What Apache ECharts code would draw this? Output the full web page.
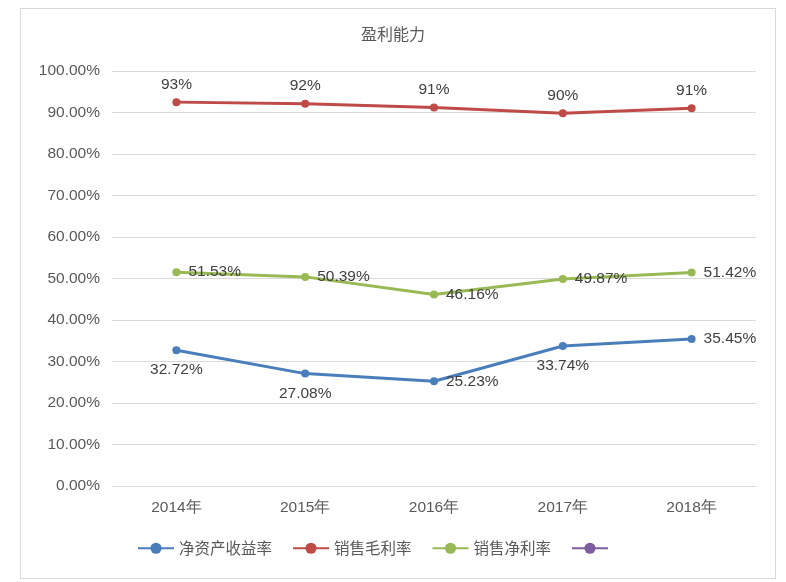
<!DOCTYPE html>
<html>
<head>
<meta charset="utf-8">
<script src="https://cdn.jsdelivr.net/npm/echarts@6/dist/echarts.min.js"></script>
<style>
  body { margin: 0; background: #fff; }
  #box { position: absolute; left: 20px; top: 8px; width: 754px; height: 569px; border: 1px solid #d9d9d9; }
  #chart { position: absolute; left: 0; top: 0; width: 786px; height: 582px; }
</style>
</head>
<body>
<div id="box"></div>
<div id="chart"></div>
<script>
var years = ['2014年', '2015年', '2016年', '2017年', '2018年'];
var roe = [32.72, 27.08, 25.23, 33.74, 35.45];
var grossMargin = [92.5, 92.1, 91.2, 89.8, 91.0];
var netMargin = [51.53, 50.39, 46.16, 49.87, 51.42];
var roePos = ['bottom', 'bottom', 'right', 'bottom', 'right'];

var myChart = echarts.init(document.getElementById('chart'));
var txt = { color: '#404040', fontSize: 15.5, fontFamily: 'Liberation Sans, Noto Sans CJK SC' };

var option = {
    title: {
        text: '盈利能力',
        left: 'center',
        top: 21,
        textStyle: { color: '#595959', fontSize: 16, fontWeight: 'normal', fontFamily: 'Noto Sans CJK SC' }
    },
    legend: {
        bottom: 21,
        left: 132,
        itemWidth: 36,
        itemGap: 20,
        textStyle: { color: '#595959', fontSize: 15.5, fontFamily: 'Noto Sans CJK SC' },
        data: ['净资产收益率', '销售毛利率', '销售净利率', ' ']
    },
    grid: { left: 112, right: 30, top: 71, bottom: 96 },
    xAxis: {
        type: 'category',
        data: years,
        axisLine: { lineStyle: { color: '#d9d9d9' } },
        axisTick: { show: false },
        axisLabel: { color: '#595959', fontSize: 15.5, margin: 14 }
    },
    yAxis: {
        type: 'value',
        min: 0, max: 100, interval: 10,
        axisLabel: { color: '#595959', fontSize: 15.5, margin: 12, formatter: function (v) { return v.toFixed(2) + '%'; } },
        splitLine: { lineStyle: { color: '#d9d9d9' } }
    },
    series: [
        {
            name: '净资产收益率', type: 'line', symbol: 'circle', symbolSize: 8,
            color: '#4a7ebb', lineStyle: { width: 3 },
            data: roe.map(function (v, i) {
                return { value: v, label: { position: roePos[i] } };
            }),
            label: Object.assign({ show: true, distance: 8, formatter: function (p) { return p.value.toFixed(2) + '%'; } }, txt)
        },
        {
            name: '销售毛利率', type: 'line', symbol: 'circle', symbolSize: 8,
            color: '#be4b48', lineStyle: { width: 3 },
            data: grossMargin,
            label: Object.assign({ show: true, position: 'top', distance: 6, formatter: function (p) { return Math.round(p.value) + '%'; } }, txt)
        },
        {
            name: '销售净利率', type: 'line', symbol: 'circle', symbolSize: 8,
            color: '#98b954', lineStyle: { width: 3 },
            data: netMargin,
            label: Object.assign({ show: true, position: 'right', distance: 8, formatter: function (p) { return p.value.toFixed(2) + '%'; } }, txt)
        },
        {
            name: ' ', type: 'line', symbol: 'circle', symbolSize: 8,
            color: '#7d5fa0', lineStyle: { width: 3 },
            data: []
        }
    ]
};

myChart.setOption(option);
</script>
</body>
</html>
